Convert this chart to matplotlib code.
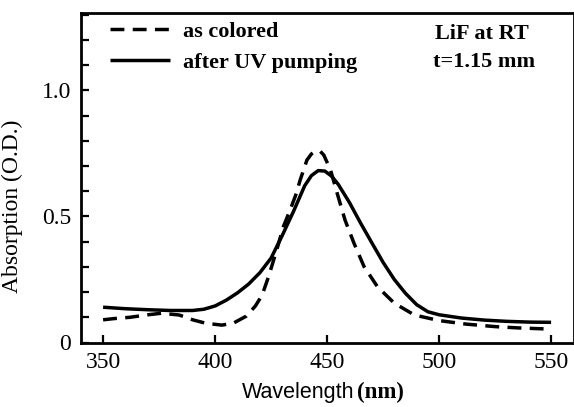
import matplotlib
matplotlib.use("Agg")
import matplotlib.pyplot as plt
from matplotlib.ticker import FixedLocator, MultipleLocator, FuncFormatter

# Absorption spectra of a colored LiF crystal (room temperature, t = 1.15 mm)
wl_colored = [350, 355, 362, 370, 376, 384, 390, 396, 403, 408, 414, 418, 421,
              424, 427.5, 430.5, 433.5, 436, 438, 441, 443, 445, 447, 448.5,
              451.5, 454.5, 458, 462, 466.5, 472.5, 480, 489, 500, 512, 525,
              535, 547]
od_colored = [0.090, 0.095, 0.100, 0.110, 0.116, 0.109, 0.090, 0.076, 0.069,
              0.076, 0.105, 0.145, 0.188, 0.265, 0.367, 0.460, 0.526, 0.585,
              0.645, 0.724, 0.748, 0.760, 0.758, 0.744, 0.685, 0.592, 0.486,
              0.394, 0.301, 0.221, 0.156, 0.109, 0.087, 0.073, 0.063, 0.058,
              0.054]

wl_pumped = [350, 360, 370, 380, 390, 395, 400, 405, 410, 415, 420, 425, 430,
             435, 440, 443, 446, 449, 452, 455, 460, 465, 470, 475, 480, 485,
             490, 495, 500, 510, 520, 530, 540, 550]
od_pumped = [0.140, 0.134, 0.130, 0.127, 0.127, 0.132, 0.145, 0.168, 0.197,
             0.232, 0.277, 0.335, 0.425, 0.520, 0.622, 0.662, 0.682, 0.680,
             0.660, 0.627, 0.555, 0.473, 0.395, 0.318, 0.250, 0.195, 0.150,
             0.122, 0.110, 0.097, 0.089, 0.084, 0.081, 0.080]

x_ticks = [350, 400, 450, 500, 550]
y_ticks = [0, 0.5, 1.0]
series_labels = ["as colored", "after UV pumping"]
sample_notes = ["LiF at RT", "t=1.15 mm"]

SERIF = ["Liberation Serif", "DejaVu Serif"]
SANS = ["Liberation Sans", "DejaVu Sans"]

W, H = 574, 407
fig = plt.figure(figsize=(W / 100, H / 100), dpi=100)
ax = fig.add_axes([80.7 / W, 1 - 342.5 / H, (573.5 - 80.7) / W, (342.5 - 13.3) / H])

lw = 2.5
ax.plot(wl_colored, od_colored, color="black", lw=lw,
        linestyle=(0, (4.0, 2.4)), label=series_labels[0])
ax.plot(wl_pumped, od_pumped, color="black", lw=lw, solid_capstyle="butt",
        label=series_labels[1])

ax.set_xlim(340, 560)
ax.set_ylim(0, 1.306)

ax.xaxis.set_major_locator(FixedLocator(x_ticks))
ax.yaxis.set_major_locator(FixedLocator(y_ticks))
ax.yaxis.set_minor_locator(MultipleLocator(0.1))
ax.yaxis.set_major_formatter(FuncFormatter(lambda v, p: "0" if v == 0 else f"{v:.1f}"))

for s in ax.spines.values():
    s.set_linewidth(2.0)

ax.tick_params(axis="both", which="both", direction="in", width=1.6, length=6,
               labelsize=17, pad=7)
ax.tick_params(axis="y", which="minor", length=6)
for lab in ax.get_xticklabels() + ax.get_yticklabels():
    lab.set_fontfamily(SERIF)

ax.set_ylabel("Absorption (O.D.)", fontsize=17, family=SERIF)
ax.yaxis.set_label_coords(-0.117, 0.415)

# x-axis title: sans word with a bold serif unit
fig.text(242 / W, 1 - 398 / H, "Wavelength", fontsize=15.5, family=SANS,
         ha="left", va="baseline")
fig.text(357 / W, 1 - 398 / H, "(nm)", fontsize=16.5, family=SERIF,
         weight="bold", ha="left", va="baseline")

fs_note = 16
leg = ax.legend(loc="upper left", bbox_to_anchor=(110 / W, 1 - 21 / H),
                bbox_transform=fig.transFigure, frameon=False,
                prop={"family": SERIF, "weight": "bold", "size": fs_note},
                handlelength=2.7, handletextpad=0.57, labelspacing=0.48,
                borderpad=0, borderaxespad=0)

fig.text(435 / W, 1 - 39.3 / H, sample_notes[0], fontsize=fs_note, family=SERIF,
         weight="bold", ha="left", va="baseline")
fig.text(433 / W, 1 - 66.7 / H, sample_notes[1], fontsize=fs_note, family=SERIF,
         weight="bold", ha="left", va="baseline")

fig.savefig("out.png", dpi=100)
